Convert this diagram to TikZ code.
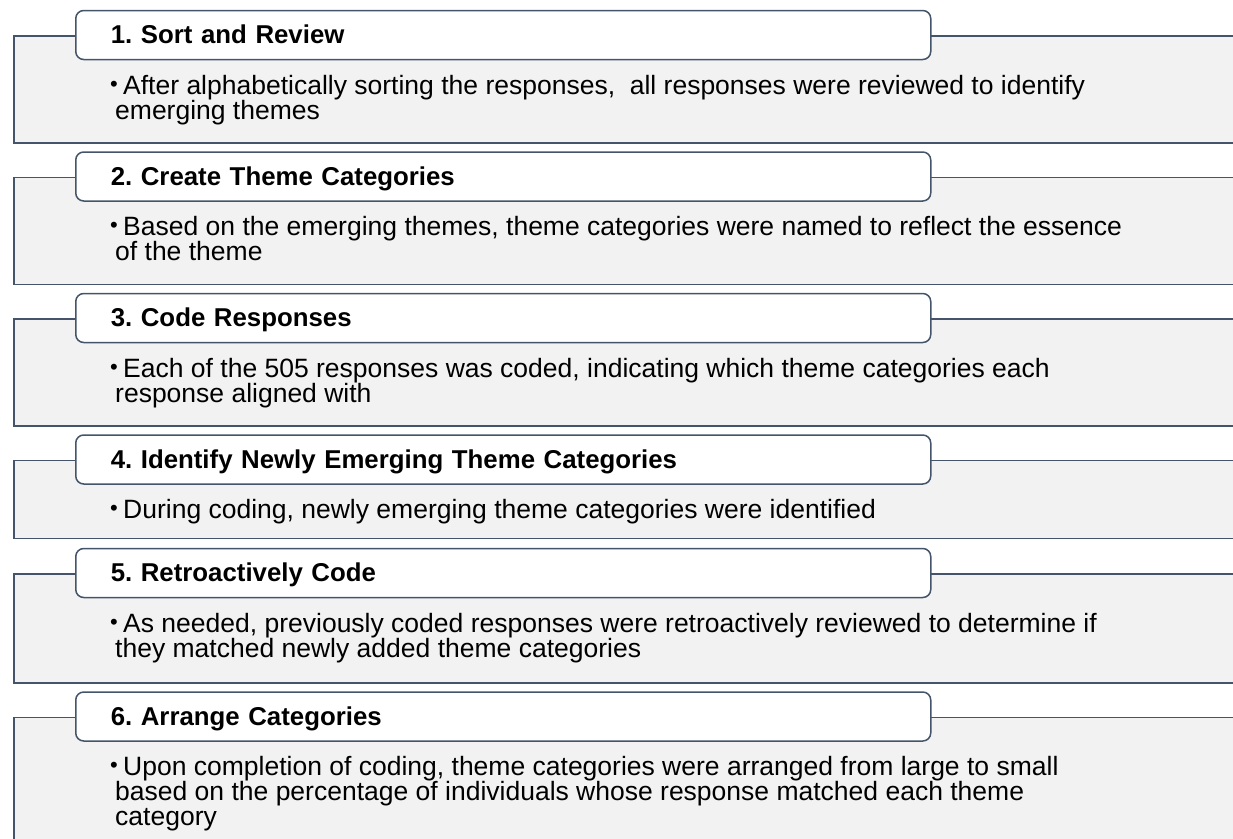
\documentclass[tikz,border=0pt]{standalone}
\usepackage{fontspec}
\setmainfont{Liberation Sans}
\usepackage{xcolor}
\usetikzlibrary{positioning}
\frenchspacing
\definecolor{slate}{HTML}{44546A}
\definecolor{panelgray}{HTML}{F2F2F2}
\newcommand{\firstbul}{\rule{0pt}{20pt}\hspace{-5pt}\makebox[13pt][l]{\raisebox{3pt}{\fontsize{22}{22}\selectfont\textbullet}}}

\begin{document}
\begin{tikzpicture}[
  x=1pt, y=-1pt,
  panel/.style={rectangle, draw=slate, fill=panelgray, line width=1.5pt,
                minimum width=1240pt, inner sep=0pt},
  head/.style={rectangle, draw=slate, fill=white, line width=1.5pt,
               rounded corners=8pt, minimum height=49pt, text width=785pt,
               inner xsep=35pt, inner ysep=0pt, text height=21pt, text depth=4pt,
               align=left, font=\fontsize{25.8}{25}\selectfont\bfseries},
  body/.style={inner sep=0pt, align=left, font=\fontsize{26.5}{25}\selectfont},
]
  \useasboundingbox (0,0) rectangle (1233,838);
  \clip (0,0) rectangle (1233,838);

  % panels
  \node[panel, anchor=north west, minimum height=107pt] (p1) at (13,35) {};
  \node[panel, below=33pt of p1, minimum height=107pt] (p2) {};
  \node[panel, below=33pt of p2, minimum height=107pt] (p3) {};
  \node[panel, below=33pt of p3, minimum height=78pt] (p4) {};
  \node[panel, below=34pt of p4, minimum height=109pt] (p5) {};
  \node[panel, below=33pt of p5, minimum height=200pt] (p6) {};

  % step headers
  \node[head, right=62pt of p1.north west] (h1) {1. Sort and Review};
  \node[head, right=62pt of p2.north west] (h2) {2. Create Theme Categories};
  \node[head, right=62pt of p3.north west] (h3) {3. Code Responses};
  \node[head, right=62pt of p4.north west] (h4) {4. Identify Newly Emerging Theme Categories};
  \node[head, right=62pt of p5.north west] (h5) {5. Retroactively Code};
  \node[head, right=62pt of p6.north west] (h6) {6. Arrange Categories};

  % descriptions
  \node[body, below right=14pt and 40pt of h1.south west] (b1)
    {\firstbul After alphabetically sorting the responses,\ \ all responses were reviewed to identify\\
     emerging themes};
  \node[body, below right=14pt and 40pt of h2.south west] (b2)
    {\firstbul Based on the emerging themes, theme categories were named to reflect the essence\\
     of the theme};
  \node[body, below right=14pt and 40pt of h3.south west] (b3)
    {\firstbul Each of the 505 responses was coded, indicating which theme categories each\\
     response aligned with};
  \node[body, below right=14pt and 40pt of h4.south west] (b4)
    {\firstbul During coding, newly emerging theme categories were identified};
  \node[body, below right=14pt and 40pt of h5.south west] (b5)
    {\firstbul As needed, previously coded responses were retroactively reviewed to determine if\\
     they matched newly added theme categories};
  \node[body, below right=14pt and 40pt of h6.south west] (b6)
    {\firstbul Upon completion of coding, theme categories were arranged from large to small\\
     based on the percentage of individuals whose response matched each theme\\
     category};
\end{tikzpicture}
\end{document}
